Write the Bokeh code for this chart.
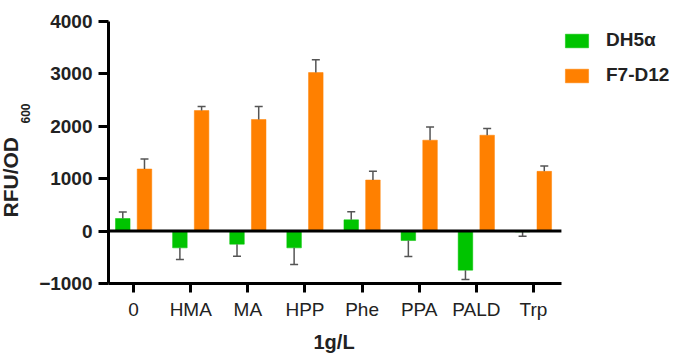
from bokeh.plotting import figure
from bokeh.models import (FixedTicker, Legend, LegendItem, ColumnDataSource, Title)
from bokeh.embed import file_html
from bokeh.resources import INLINE

categories = ["0", "HMA", "MA", "HPP", "Phe", "PPA", "PALD", "Trp"]
dh5a = [240, -320, -250, -320, 215, -180, -745, -15]
dh5a_err = [126, 221, 228, 316, 152, 304, 179, 85]
f7d12 = [1185, 2300, 2130, 3025, 975, 1735, 1830, 1140]
f7d12_err = [191, 76, 247, 247, 166, 254, 127, 101]
y_ticks = [-1000, 0, 1000, 2000, 3000, 4000]
series_names = ["DH5\u03b1", "F7-D12"]
y_title_main = "RFU/OD"
y_title_sub = "600"
x_title = "1g/L"

GREEN = "#00C400"
ORANGE = "#FF8000"
ERR = "#555555"
TXT = "#222222"
FONT = "Liberation Sans"

axis_lo, axis_hi = -0.44, 7.49   # extent of the category axis
legend_room = 2.05               # extra room on the right (category units) for the legend

p = figure(width=678, height=358, output_backend="svg", toolbar_location=None,
           x_range=(axis_lo, axis_hi + legend_room), y_range=(-1000, 4000),
           min_border_left=108, min_border_right=0, min_border_top=21, min_border_bottom=75)
p.outline_line_color = None
p.grid.visible = False
p.background_fill_color = "white"

off = 0.19
bw = 0.255
idx = list(range(len(categories)))

def add_series(vals, errs, dx, color):
    xs = [i + dx for i in idx]
    ends = [v + e if v >= 0 else v - e for v, e in zip(vals, errs)]
    src = ColumnDataSource(dict(x=xs, top=vals, end=ends,
                                cl=[x - 0.07 for x in xs], cr=[x + 0.07 for x in xs]))
    r = p.vbar(x="x", top="top", bottom=0, width=bw, source=src,
               fill_color=color, line_color=color, line_width=0.5)
    p.segment(x0="x", y0="top", x1="x", y1="end", source=src, line_color=ERR, line_width=1.5)
    p.segment(x0="cl", y0="end", x1="cr", y1="end", source=src, line_color=ERR, line_width=1.5)
    return r

r1 = add_series(dh5a, dh5a_err, -off, GREEN)
r2 = add_series(f7d12, f7d12_err, off, ORANGE)

# zero line across the category axis extent
p.segment(x0=[axis_lo], y0=[0], x1=[axis_hi], y1=[0], line_color="black", line_width=3)

ya = p.yaxis[0]
ya.ticker = FixedTicker(ticks=y_ticks)
ya.axis_line_width = 3
ya.major_tick_line_width = 3
ya.major_tick_out = 10
ya.major_tick_in = 0
ya.minor_tick_line_color = None
ya.major_label_text_font = FONT
ya.major_label_text_font_style = "bold"
ya.major_label_text_font_size = "19px"
ya.major_label_text_color = TXT
ya.major_label_standoff = 6

# y title as two pieces (main text + subscript)
t_sub = Title(text=y_title_sub, align="left", offset=160, standoff=13,
              text_font=FONT, text_font_style="bold", text_font_size="12px", text_color=TXT)
t_main = Title(text=y_title_main, align="left", offset=66, standoff=-18,
               text_font=FONT, text_font_style="bold", text_font_size="21px", text_color=TXT)
p.add_layout(t_sub, "left")
p.add_layout(t_main, "left")

xa = p.xaxis[0]
xa.bounds = (axis_lo, axis_hi)
xa.ticker = FixedTicker(ticks=idx)
xa.major_label_overrides = {i: c for i, c in zip(idx, categories)}
xa.axis_line_width = 3
xa.major_tick_line_width = 3
xa.major_tick_out = 9
xa.major_tick_in = 0
xa.minor_tick_line_color = None
xa.major_label_text_font = FONT
xa.major_label_text_font_size = "19px"
xa.major_label_text_color = TXT
xa.major_label_standoff = 6

# x title centred under the category axis
xt = Title(text=x_title, align="left", offset=205, standoff=12,
           text_font=FONT, text_font_style="bold", text_font_size="20px", text_color=TXT)
p.add_layout(xt, "below")

legend = Legend(items=[LegendItem(label=series_names[0], renderers=[r1]),
                       LegendItem(label=series_names[1], renderers=[r2])],
                location=(454, 197))
legend.padding = 0
legend.margin = 0
legend.border_line_color = None
legend.background_fill_alpha = 0
legend.glyph_width = 29
legend.glyph_height = 17
legend.label_height = 17
legend.spacing = 13
legend.label_standoff = 15
legend.label_text_font = FONT
legend.label_text_font_style = "bold"
legend.label_text_font_size = "19px"
legend.label_text_color = TXT
p.add_layout(legend, "center")

open("out.html", "w").write(file_html(p, INLINE))
